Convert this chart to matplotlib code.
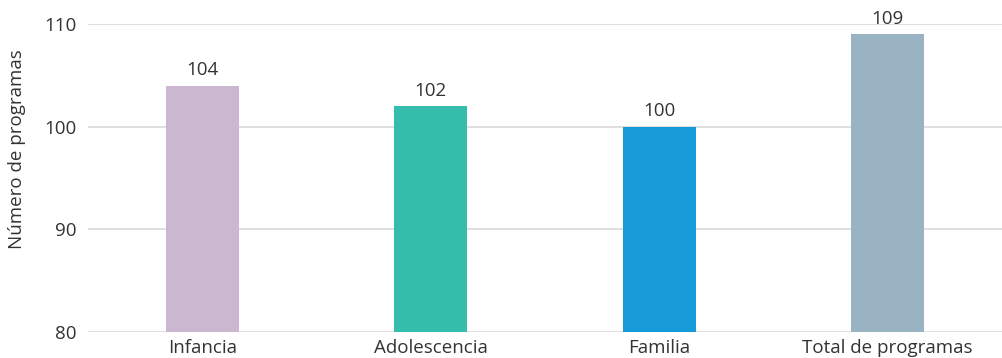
import matplotlib.pyplot as plt

categories = ['Infancia', 'Adolescencia', 'Familia', 'Total de programas']
values = [104, 102, 100, 109]
colors = ['#cbb8d0', '#33bdaa', '#169bd8', '#9ab3c2']

plt.rcParams['font.family'] = ['Open Sans', 'DejaVu Sans']

fig = plt.figure(figsize=(10.02, 3.58), dpi=100)
ax = fig.add_axes([0.0878, 0.0726, 0.9122, 0.8604])

x = range(len(categories))
bars = ax.bar(x, values, width=0.32, color=colors, zorder=3)
for b, v in zip(bars, values):
    ax.text(b.get_x() + b.get_width() / 2, v + 0.6, str(v),
            ha='center', va='bottom', fontsize=13.5, color='#333333')

ax.set_xlim(-0.5, 3.5)
ax.set_ylim(80, 110)
ax.set_yticks([80, 90, 100, 110])
ax.set_xticks(list(x))
ax.set_xticklabels(categories)
ax.tick_params(length=0, labelsize=13.5, colors='#333333')
ax.tick_params(axis='x', pad=5)
ax.tick_params(axis='y', pad=8)
ax.grid(axis='y', color='#dcdcdc', linewidth=1.3, zorder=0)
for s in ax.spines.values():
    s.set_visible(False)
ax.set_ylabel('Número de programas', fontsize=13.5, color='#333333')
# label sits a bit above the axes centre in the original
ax.yaxis.set_label_coords(-0.068, 0.594)

fig.savefig('out.png', dpi=100)
